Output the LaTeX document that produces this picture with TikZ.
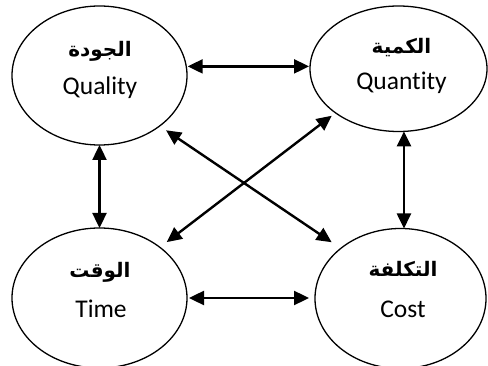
\documentclass[tikz,border=0pt]{standalone}
\usepackage{fontspec}
\setmainfont[Ligatures=NoCommon]{Carlito}
\newfontfamily\arabicfont[Script=Arabic]{DejaVu Sans}
\TeXXeTstate=1
\usetikzlibrary{shapes.geometric,arrows.meta}

\tikzset{
  bubble/.style={draw, ellipse, line width=1.3pt, inner sep=0pt, outer sep=0pt},
  link/.style={{Triangle[length=15pt,width=14pt]}-{Triangle[length=15pt,width=14pt]}, line width=2.4pt},
  artext/.style={inner sep=0pt, font=\arabicfont\bfseries\fontsize{20}{24}\selectfont},
  entext/.style={inner sep=0pt, anchor=base, font=\fontsize{25.5}{30}\selectfont}
}

\begin{document}
\begin{tikzpicture}[x=1pt,y=-1pt]
  \useasboundingbox (0,0) rectangle (488,366);
  \clip (0,0) rectangle (488,366);

  % the four dimensions
  \node[bubble, minimum width=175pt, minimum height=139pt]   (q)  at (99.5,75.5)  {};
  \node[bubble, minimum width=177pt, minimum height=125.5pt] (qn) at (398.5,68.75) {};
  \node[bubble, minimum width=175pt, minimum height=140pt]   (t)  at (99.5,298)   {};
  \node[bubble, minimum width=171pt, minimum height=140pt]   (c)  at (400.5,298.5) {};

  % labels
  \node[artext] (qa)  at (100,51)   {\beginR الجودة\endR};
  \node[entext] (qe)  at (100,95)   {Quality};
  \node[artext] (qna) at (401.5,48) {\beginR الكمية\endR};
  \node[entext] (qne) at (401.5,90) {Quantity};
  \node[artext] (ta)  at (100,272)  {\beginR الوقت\endR};
  \node[entext] (te)  at (101,318)  {Time};
  \node[artext] (ca)  at (403,269)  {\beginR التكلفة\endR};
  \node[entext] (ce)  at (403,318)  {Cost};

  % two-way links
  \draw[link, shorten <=1.5pt, shorten >=1pt] (q.6) -- (q.6 -| qn.west);
  \draw[link, shorten <=2pt, shorten >=6pt] (t.east) -- (t.east -| c.west);
  \draw[link] (q.south) -- (t.north);
  \draw[link] (qn.-85) -- (qn.-85 |- c.north);
  \draw[link, shorten <=7.7pt, shorten >=11pt] (q.-40) -- (c.140);
  \draw[link, shorten <=8.6pt, shorten >=4.8pt] (t.40) -- (qn.215);
\end{tikzpicture}
\end{document}
